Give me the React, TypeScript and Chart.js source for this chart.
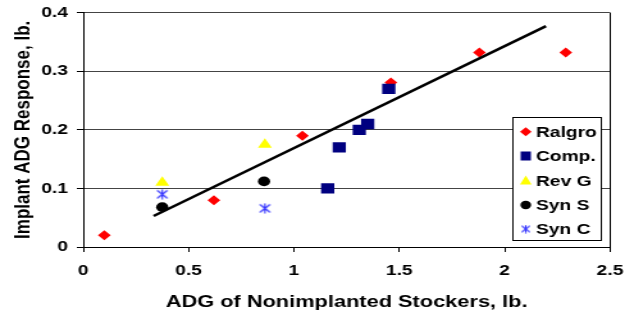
import React, { useEffect, useRef } from "react";
import { Chart, registerables } from "chart.js";

Chart.register(...registerables);

const ralgroX = [0.10, 0.62, 1.04, 1.46, 1.88, 2.29];
const ralgroY = [0.02, 0.08, 0.19, 0.281, 0.332, 0.332];
const compX = [1.16, 1.215, 1.31, 1.35, 1.45];
const compY = [0.10, 0.17, 0.20, 0.21, 0.27];
const revGX = [0.375, 0.862];
const revGY = [0.11, 0.175];
const synSX = [0.375, 0.858];
const synSY = [0.068, 0.112];
const synCX = [0.375, 0.862];
const synCY = [0.09, 0.066];
const trendX = [0.334, 2.196];
const trendY = [0.053, 0.377];

const seriesNames = ["Ralgro", "Comp.", "Rev G", "Syn S", "Syn C"];
const xTitle = "ADG of Nonimplanted Stockers, lb.";
const yTitle = "Implant ADG Response, lb.";

const FONT = "Arial, 'Liberation Sans', sans-serif";
const RED = "#FF0000";
const NAVY = "#000080";
const YELLOW = "#FFFF00";
const BLACK = "#000000";
const BLUE = "#3333FF";

const CW = 488; // internal canvas width, stretched to 625 via CSS
const CH = 320;

const pts = (xs: number[], ys: number[]) => xs.map((x, i) => ({ x, y: ys[i] }));
const fmt = (v: any) => String(Math.round(Number(v) * 10) / 10);

function makeStar(size: number, color: string) {
  const c = document.createElement("canvas");
  c.width = size;
  c.height = size;
  const g = c.getContext("2d")!;
  g.strokeStyle = color;
  g.lineWidth = 1.2;
  const m = size / 2;
  const r = size / 2 - 0.5;
  g.beginPath();
  g.moveTo(m, m - r);
  g.lineTo(m, m + r);
  const d = r * 0.8;
  g.moveTo(m - d, m - d);
  g.lineTo(m + d, m + d);
  g.moveTo(m + d, m - d);
  g.lineTo(m - d, m + d);
  g.stroke();
  return c;
}

export default function App() {
  const ref = useRef<HTMLCanvasElement | null>(null);

  useEffect(() => {
    const canvas = ref.current;
    if (!canvas) return;
    const star = makeStar(11, BLUE);
    const starSmall = makeStar(9, BLUE);

    const legendPlugin = {
      id: "boxLegend",
      afterDraw(chart: any) {
        const ctx = chart.ctx as CanvasRenderingContext2D;
        const area = chart.chartArea;
        ctx.save();
        // plot right border
        ctx.strokeStyle = "#000";
        ctx.lineWidth = 1;
        ctx.beginPath();
        ctx.moveTo(Math.round(area.right) + 0.5, area.top);
        ctx.lineTo(Math.round(area.right) + 0.5, area.bottom);
        ctx.stroke();

        const bx = 400.5, by = 117.5, bw = 69, bh = 123;
        ctx.fillStyle = "#fff";
        ctx.fillRect(bx, by, bw, bh);
        ctx.strokeStyle = "#000";
        ctx.strokeRect(bx, by, bw, bh);
        const mx = 410.5;
        const tx = 418.5;
        const ys = [131.7, 156, 180.5, 205, 229];
        ctx.font = `bold 15px ${FONT}`;
        ctx.textBaseline = "middle";
        ctx.textAlign = "left";
        seriesNames.forEach((name, i) => {
          const y = ys[i];
          ctx.beginPath();
          if (i === 0) {
            const r = 4.5;
            ctx.moveTo(mx, y - r);
            ctx.lineTo(mx + r, y);
            ctx.lineTo(mx, y + r);
            ctx.lineTo(mx - r, y);
            ctx.closePath();
            ctx.fillStyle = RED;
            ctx.fill();
          } else if (i === 1) {
            ctx.fillStyle = NAVY;
            ctx.fillRect(mx - 4, y - 4.5, 8, 9);
          } else if (i === 2) {
            ctx.moveTo(mx, y - 5);
            ctx.lineTo(mx + 4.5, y + 4);
            ctx.lineTo(mx - 4.5, y + 4);
            ctx.closePath();
            ctx.fillStyle = YELLOW;
            ctx.fill();
          } else if (i === 3) {
            ctx.arc(mx, y, 4.2, 0, Math.PI * 2);
            ctx.fillStyle = BLACK;
            ctx.fill();
          } else {
            ctx.drawImage(starSmall, mx - 4.5, y - 4.5);
          }
          ctx.fillStyle = "#000";
          ctx.fillText(name, tx, y + 1);
        });
        ctx.restore();
      },
    };

    const chart = new Chart(canvas, {
      type: "scatter",
      data: {
        datasets: [
          {
            type: "line",
            label: "trend",
            data: pts(trendX, trendY),
            borderColor: "#000",
            borderWidth: 2.5,
            pointRadius: 0,
            showLine: true,
            fill: false,
            order: 0,
          } as any,
          {
            label: seriesNames[0],
            data: pts(ralgroX, ralgroY),
            pointStyle: "rectRot",
            pointRadius: 5,
            backgroundColor: RED,
            borderColor: RED,
            borderWidth: 0,
            order: 6,
          },
          {
            label: seriesNames[1],
            data: pts(compX, compY),
            pointStyle: "rect",
            pointRadius: 7.3,
            backgroundColor: NAVY,
            borderColor: NAVY,
            borderWidth: 0,
            order: 1,
          },
          {
            label: seriesNames[2],
            data: pts(revGX, revGY),
            pointStyle: "triangle",
            pointRadius: 6.3,
            backgroundColor: YELLOW,
            borderColor: YELLOW,
            borderWidth: 0,
            order: 5,
          },
          {
            label: seriesNames[3],
            data: pts(synSX, synSY),
            pointStyle: "circle",
            pointRadius: 4.8,
            backgroundColor: BLACK,
            borderColor: BLACK,
            borderWidth: 0,
            order: 4,
          },
          {
            label: seriesNames[4],
            data: pts(synCX, synCY),
            pointStyle: star as any,
            pointRadius: 5,
            backgroundColor: BLUE,
            borderColor: BLUE,
            order: 3,
          },
        ],
      },
      options: {
        responsive: false,
        maintainAspectRatio: false,
        animation: false,
        devicePixelRatio: 1,
        layout: { padding: { top: 12.7, right: 11.7, left: 0, bottom: 0 } },
        plugins: {
          legend: { display: false },
          tooltip: { enabled: false },
        },
        scales: {
          x: {
            type: "linear",
            min: 0,
            max: 2.5,
            ticks: {
              stepSize: 0.5,
              color: "#000",
              font: { family: FONT, size: 15, weight: "bold" },
              padding: 10,
              maxRotation: 0,
              callback: (v: any) => fmt(v),
            },
            grid: {
              drawOnChartArea: false,
              drawTicks: true,
              tickLength: 5,
              tickColor: "#000",
            },
            border: { color: "#000", width: 1 },
            title: {
              display: true,
              text: xTitle,
              color: "#000",
              font: { family: FONT, size: 17, weight: "bold" },
              padding: { top: 0, bottom: 7 },
            },
            afterFit: (s: any) => {
              s.height = 73;
              s.paddingLeft = 0;
              s.paddingRight = 0;
            },
          },
          y: {
            type: "linear",
            min: 0,
            max: 0.4,
            ticks: {
              stepSize: 0.1,
              color: "#000",
              font: { family: FONT, size: 15, weight: "bold" },
              padding: 7,
              callback: (v: any) => fmt(v),
            },
            grid: {
              color: "#444",
              lineWidth: 1,
              tickLength: 5,
              tickColor: "#000",
            },
            border: { color: "#000", width: 1 },
            title: {
              display: true,
              text: yTitle,
              color: "#000",
              font: { family: FONT, size: 17, weight: "bold" },
              padding: { top: 8, bottom: 0 },
            },
            afterFit: (s: any) => {
              s.width = 65;
              s.paddingTop = 0;
              s.paddingBottom = 0;
            },
          },
        },
      },
      plugins: [legendPlugin],
    });
    return () => chart.destroy();
  }, []);

  return (
    <div style={{ position: "absolute", left: 0, top: 0, width: 625, height: 320, background: "#fff" }}>
      <canvas
        ref={ref}
        width={CW}
        height={CH}
        style={{ width: "625px", height: "320px", display: "block" }}
      />
    </div>
  );
}
